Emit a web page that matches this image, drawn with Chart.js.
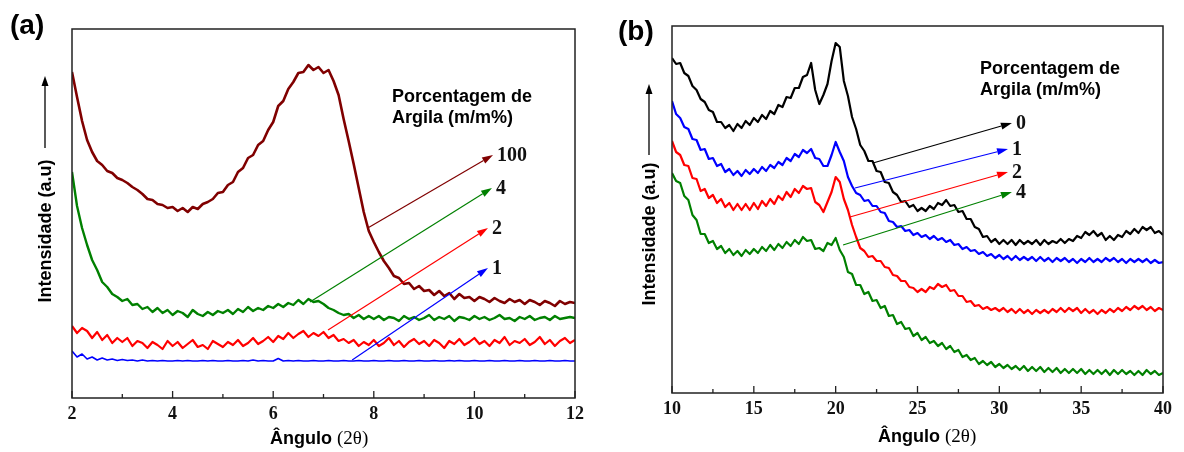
<!DOCTYPE html>
<html>
<head>
<meta charset="utf-8">
<script src="https://cdn.jsdelivr.net/npm/chart.js@4.4.1/dist/chart.umd.min.js"></script>
<style>
  body { margin: 0; background: #fff; width: 1184px; height: 452px; position: relative; overflow: hidden;
         font-family: "Liberation Sans", Arial, sans-serif; color: #000; }
  .box { position: absolute; top: 0; }
  .t { position: absolute; white-space: nowrap; font-weight: bold; }
  .panel { font-size: 28px; line-height: 28px; }
  .legend { font-size: 18px; line-height: 21px; }
  .xt { font-size: 18px; line-height: 22px; }
  .xt span { font-family: "Liberation Serif", "Times New Roman", serif; font-weight: normal; font-size: 19px; }
  .yt { font-size: 18px; line-height: 20px; transform: translate(-50%, -50%) rotate(-90deg); }
  svg { position: absolute; left: 0; top: 0; }
</style>
</head>
<body>
<div class="box" style="left:0;width:600px;height:452px"><canvas id="chartA" width="600" height="452"></canvas></div>
<div class="box" style="left:600px;width:584px;height:452px"><canvas id="chartB" width="584" height="452"></canvas></div>

<div class="t panel" style="left:10px;top:11px">(a)</div>
<div class="t panel" style="left:618px;top:17px">(b)</div>
<div class="t legend" style="left:392px;top:86px">Porcentagem de<br>Argila (m/m%)</div>
<div class="t legend" style="left:980px;top:58px">Porcentagem de<br>Argila (m/m%)</div>
<div class="t xt" style="left:270px;top:427px">Ângulo <span>(2θ)</span></div>
<div class="t xt" style="left:878px;top:425px">Ângulo <span>(2θ)</span></div>
<div class="t yt" style="left:45px;top:231px">Intensidade (a.u)</div>
<div class="t yt" style="left:649px;top:234px">Intensidade (a.u)</div>
<svg width="1184" height="452">
  <line x1="45" y1="148" x2="45" y2="84" stroke="#000" stroke-width="1.3"/>
  <polygon points="45,76 41.5,86 48.5,86" fill="#000"/>
  <line x1="649" y1="155" x2="649" y2="92" stroke="#000" stroke-width="1.3"/>
  <polygon points="649,84 645.5,94 652.5,94" fill="#000"/>
</svg>

<script>
// panel (a): 2θ from 2 to 12, step 0.1
const anglesA = Array.from({ length: 101 }, (_, i) => Math.round((2 + i * 0.1) * 10) / 10);

const clay100 = [
  326, 301, 277, 258, 246, 237, 233, 227, 225, 220,
  218, 215, 211, 208, 204, 199, 198, 194, 193, 190,
  191, 187, 190, 186, 191, 189, 194, 196, 199, 205,
  206, 213, 216, 226, 230, 240, 243, 253, 257, 268,
  276, 292, 297, 309, 316, 325, 326, 333, 328, 331,
  325, 328, 317, 303, 279, 257, 234, 210, 186, 167,
  156, 146, 137, 130, 122, 120, 114, 115, 109, 112,
  107, 108, 103, 107, 102, 105, 99, 104, 100, 101,
  97, 101, 99, 96, 100, 97, 95, 99, 96, 98,
  94, 98, 96, 93, 97, 95, 92, 97, 94, 96,
  95
];
const clay4A = [
  226, 192, 170, 153, 138, 128, 116, 111, 104, 101,
  97, 99, 93, 94, 89, 91, 86, 90, 85, 88,
  83, 87, 85, 81, 88, 84, 82, 86, 83, 87,
  85, 88, 84, 89, 86, 91, 87, 90, 88, 92,
  90, 94, 91, 95, 93, 98, 94, 99, 96, 97,
  94, 90, 88, 85, 83, 84, 80, 83, 79, 82,
  79, 82, 78, 81, 80, 77, 82, 79, 81, 78,
  80, 83, 78, 81, 79, 82, 77, 81, 80, 78,
  82, 79, 81, 78, 80, 83, 79, 80, 77, 81,
  79, 82, 78, 80, 81, 78, 82, 79, 80, 81,
  80
];
const clay2A = [
  72, 65, 70, 67, 60, 66, 58, 63, 55, 60,
  56, 60, 52, 57, 55, 50, 56, 53, 49, 57,
  52, 56, 50, 54, 58, 51, 53, 49, 57, 54,
  51, 56, 53, 58, 52, 55, 60, 54, 57, 61,
  56, 62, 59, 65, 60, 64, 67, 61, 65, 62,
  66, 60, 63, 57, 59, 55, 58, 52, 56, 53,
  58, 52, 55, 60, 53, 57, 51, 56, 59, 54,
  57, 52, 58, 55, 50, 57, 54, 59, 53, 56,
  60, 54, 57, 52, 58, 55, 61, 53, 57, 55,
  59, 53, 56, 61, 54, 58, 52, 57, 60, 55,
  58
];
const clay1A = [
  47, 41, 44, 39, 41, 38, 40, 38, 39, 37.5,
  38.5, 37.5, 38, 37, 38, 37, 37.5, 37, 37.5, 37,
  37, 37.5, 37, 37.5, 37, 37, 37.5, 37, 37.5, 37,
  37, 37.5, 37, 37, 37.5, 37, 38, 37, 37.5, 37,
  37, 39.5, 37, 37.5, 37, 37.5, 37, 37, 37.5, 37,
  37, 37.5, 37, 37, 37.5, 37, 37, 37.5, 37, 37,
  37.5, 37, 37, 37.5, 37, 37, 37.5, 37, 37, 37.5,
  37, 37, 37.5, 37, 37, 37.5, 37, 37.5, 37, 37,
  37.5, 37, 37, 37.5, 37, 37, 37.5, 37, 37, 37.5,
  37, 37, 37.5, 37, 37, 37.5, 37, 37, 37.5, 37,
  37
];

// panel (b): 2θ from 10 to 40, step 0.25
const anglesB = Array.from({ length: 121 }, (_, i) => 10 + i * 0.25);

const clay0B = [
  335, 329, 330, 320,  317, 307, 303, 294,  291, 283, 281, 271,  271, 265, 268, 262,
  269, 265, 272, 268,  275, 271, 278, 274,  282, 279, 288, 286,  296, 295, 305, 305,
  316, 318, 330, 303,  289, 298, 309, 332,  350, 346, 312, 297,  276, 264, 248, 242,
  232, 232, 222, 221,  211, 210, 201, 198,  191, 192, 186, 188,  182, 185, 182, 187,
  184, 190, 188, 193,  187, 188, 181, 182,  174, 174, 166, 164,  156, 157, 151, 154,
  149, 153, 149, 153,  148, 153, 149, 152,  149, 153, 148, 153,  149, 152, 150, 154,
  150, 154, 152, 157,  155, 161, 158, 162,  157, 160, 153, 157,  153, 158, 156, 162,
  159, 164, 160, 166,  163, 166, 160, 162,  158
];
const clay1B = [
  292, 279, 275, 266,  264, 254, 253, 243,  244, 234, 235, 227,  229, 221, 224, 218,
  222, 217, 223, 219,  224, 220, 226, 222,  228, 225, 231, 228,  235, 232, 239, 236,
  243, 240, 244, 235,  234, 227, 227, 238,  251, 241, 232, 216,  207, 200, 198, 192,
  193, 187, 187, 181,  180, 172, 171, 166,  167, 162, 163, 158,  160, 156, 158, 154,
  157, 153, 155, 151,  153, 148, 149, 144,  146, 142, 143, 139,  141, 137, 139, 135,
  138, 134, 137, 133,  137, 133, 136, 133,  136, 132, 136, 132,  135, 131, 135, 132,
  135, 131, 134, 130,  134, 131, 135, 131,  134, 131, 135, 132,  135, 131, 134, 130,
  134, 131, 134, 131,  134, 130, 133, 130,  131
];
const clay2B = [
  252, 241, 238, 228,  227, 215, 214, 202,  204, 195, 198, 190,  194, 186, 190, 183,
  189, 183, 189, 183,  190, 184, 192, 187,  194, 189, 197, 193,  201, 196, 204, 200,
  207, 204, 205, 191,  188, 181, 191, 201,  216, 211, 194, 183,  168, 156, 145, 142,
  136, 137, 132, 132,  126, 125, 118, 117,  112, 112, 106, 105,  101, 104, 101, 106,
  104, 109, 106, 108,  102, 103, 97, 97,    91, 92, 87, 88,      84, 86, 83, 85,
  82, 85, 81, 84,      80, 84, 80, 83,      79, 83, 80, 83,      80, 84, 81, 85,
  81, 85, 82, 85,      80, 84, 80, 83,      79, 83, 80, 84,      81, 85, 82, 86,
  83, 87, 84, 87,      83, 86, 82, 85,      83
];
const clay4B = [
  220, 212, 210, 197,  193, 178, 173, 159,  159, 150, 152, 144,  147, 140, 144, 138,
  142, 137, 143, 139,  144, 140, 146, 142,  148, 143, 149, 145,  151, 147, 153, 149,
  156, 152, 153, 144,  145, 142, 150, 148,  155, 143, 136, 121,  119, 108, 108, 99,
  101, 92, 93, 85,     87, 77, 78, 69,      71, 64, 65, 57,      60, 53, 56, 50,
  52, 47, 50, 44,      47, 41, 43, 36,      38, 33, 35, 29,      32, 28, 31, 26,
  29, 25, 28, 24,      27, 23, 27, 22,      26, 22, 26, 21,      25, 21, 25, 20,
  24, 20, 24, 20,      24, 19, 23, 19,      23, 19, 23, 18,      23, 19, 23, 19,
  22, 18, 22, 18,      23, 19, 22, 18,      20
];

// arrows from each curve to its label, in data coordinates [2θ, intensity]
const notesA = [
  { label: "100", from: [7.88, 170], to: [10.37, 243], color: "#800000" },
  { label: "4", from: [6.73, 96], to: [10.35, 210], color: "#008000" },
  { label: "2", from: [7.09, 68], to: [10.27, 170], color: "#ff0000" },
  { label: "1", from: [7.57, 38], to: [10.27, 130], color: "#0000ff" }
];
const notesB = [
  { label: "0", from: [22.28, 230], to: [30.77, 270], color: "#000000" },
  { label: "1", from: [21.18, 205], to: [30.53, 244], color: "#0000ff" },
  { label: "2", from: [20.87, 176], to: [30.53, 221], color: "#ff0000" },
  { label: "4", from: [20.45, 148], to: [30.77, 201], color: "#008000" }
];

const pts = (xs, ys) => ys.map((y, i) => ({ x: xs[i], y }));

function line(label, xs, ys, color, width) {
  return { label, data: pts(xs, ys), borderColor: color, borderWidth: width,
           pointRadius: 0, tension: 0, fill: false, borderJoinStyle: "round" };
}

function drawArrow(ctx, x1, y1, x2, y2, color) {
  const ang = Math.atan2(y2 - y1, x2 - x1);
  const len = 11, half = 3.5;
  ctx.strokeStyle = color;
  ctx.fillStyle = color;
  ctx.lineWidth = 1.2;
  ctx.beginPath();
  ctx.moveTo(x1, y1);
  ctx.lineTo(x2 - Math.cos(ang) * len, y2 - Math.sin(ang) * len);
  ctx.stroke();
  ctx.beginPath();
  ctx.moveTo(x2, y2);
  ctx.lineTo(x2 - Math.cos(ang) * len - Math.sin(ang) * half, y2 - Math.sin(ang) * len + Math.cos(ang) * half);
  ctx.lineTo(x2 - Math.cos(ang) * len + Math.sin(ang) * half, y2 - Math.sin(ang) * len - Math.cos(ang) * half);
  ctx.closePath();
  ctx.fill();
}

// box around the plot, inward ticks, and the labelled arrows
const framePlugin = {
  id: "frame",
  afterDatasetsDraw(chart, args, opts) {
    const { ctx, chartArea: a, scales } = chart;
    const x = scales.x, y = scales.y;
    ctx.save();
    ctx.strokeStyle = "#222";
    ctx.lineWidth = 1.5;
    ctx.strokeRect(a.left, a.top, a.right - a.left, a.bottom - a.top);

    const vals = x.ticks.map(t => t.value);
    const step = vals[1] - vals[0];
    ctx.lineWidth = 1.3;
    ctx.beginPath();
    vals.forEach(v => {
      const px = x.getPixelForValue(v);
      ctx.moveTo(px, a.bottom);
      ctx.lineTo(px, a.bottom - 7);
      if (v + step / 2 < x.max) {
        const pm = x.getPixelForValue(v + step / 2);
        ctx.moveTo(pm, a.bottom);
        ctx.lineTo(pm, a.bottom - 4);
      }
    });
    ctx.stroke();

    ctx.font = "bold 20px 'Liberation Serif', 'Times New Roman', serif";
    ctx.textBaseline = "middle";
    ctx.textAlign = "left";
    opts.notes.forEach(n => {
      const x1 = x.getPixelForValue(n.from[0]), y1 = y.getPixelForValue(n.from[1]);
      const x2 = x.getPixelForValue(n.to[0]), y2 = y.getPixelForValue(n.to[1]);
      drawArrow(ctx, x1, y1, x2, y2, n.color);
      ctx.fillStyle = "#111";
      ctx.fillText(n.label, x2 + 4, y2 + 1);
    });
    ctx.restore();
  }
};

function makeChart(id, datasets, xRange, yMax, padding, notes) {
  return new Chart(document.getElementById(id), {
    type: "line",
    data: { datasets },
    plugins: [framePlugin],
    options: {
      responsive: false,
      devicePixelRatio: 1,
      animation: false,
      layout: { padding },
      plugins: { legend: { display: false }, tooltip: { enabled: false }, frame: { notes } },
      scales: {
        x: {
          type: "linear",
          min: xRange[0], max: xRange[1],
          grid: { display: false, drawTicks: false },
          border: { display: false },
          afterFit: s => { s.height = 34; },
          ticks: {
            stepSize: xRange[2], autoSkip: false, maxRotation: 0, padding: 6,
            color: "#111",
            font: { family: "'Liberation Serif', 'Times New Roman', serif", weight: "bold", size: 18 }
          }
        },
        y: { display: false, min: 0, max: yMax }
      }
    }
  });
}

makeChart("chartA", [
  line("100", anglesA, clay100, "#800000", 2.6),
  line("4", anglesA, clay4A, "#008000", 2.4),
  line("2", anglesA, clay2A, "#ff0000", 2.2),
  line("1", anglesA, clay1A, "#0000ff", 1.6)
], [2, 12, 2], 369, { left: 72, top: 29, right: 25, bottom: 20 }, notesA);

makeChart("chartB", [
  line("0", anglesB, clay0B, "#000000", 2.2),
  line("1", anglesB, clay1B, "#0000ff", 2.2),
  line("2", anglesB, clay2B, "#ff0000", 2.2),
  line("4", anglesB, clay4B, "#008000", 2.2)
], [10, 40, 5], 367, { left: 72, top: 26, right: 21, bottom: 25 }, notesB);
</script>
</body>
</html>
